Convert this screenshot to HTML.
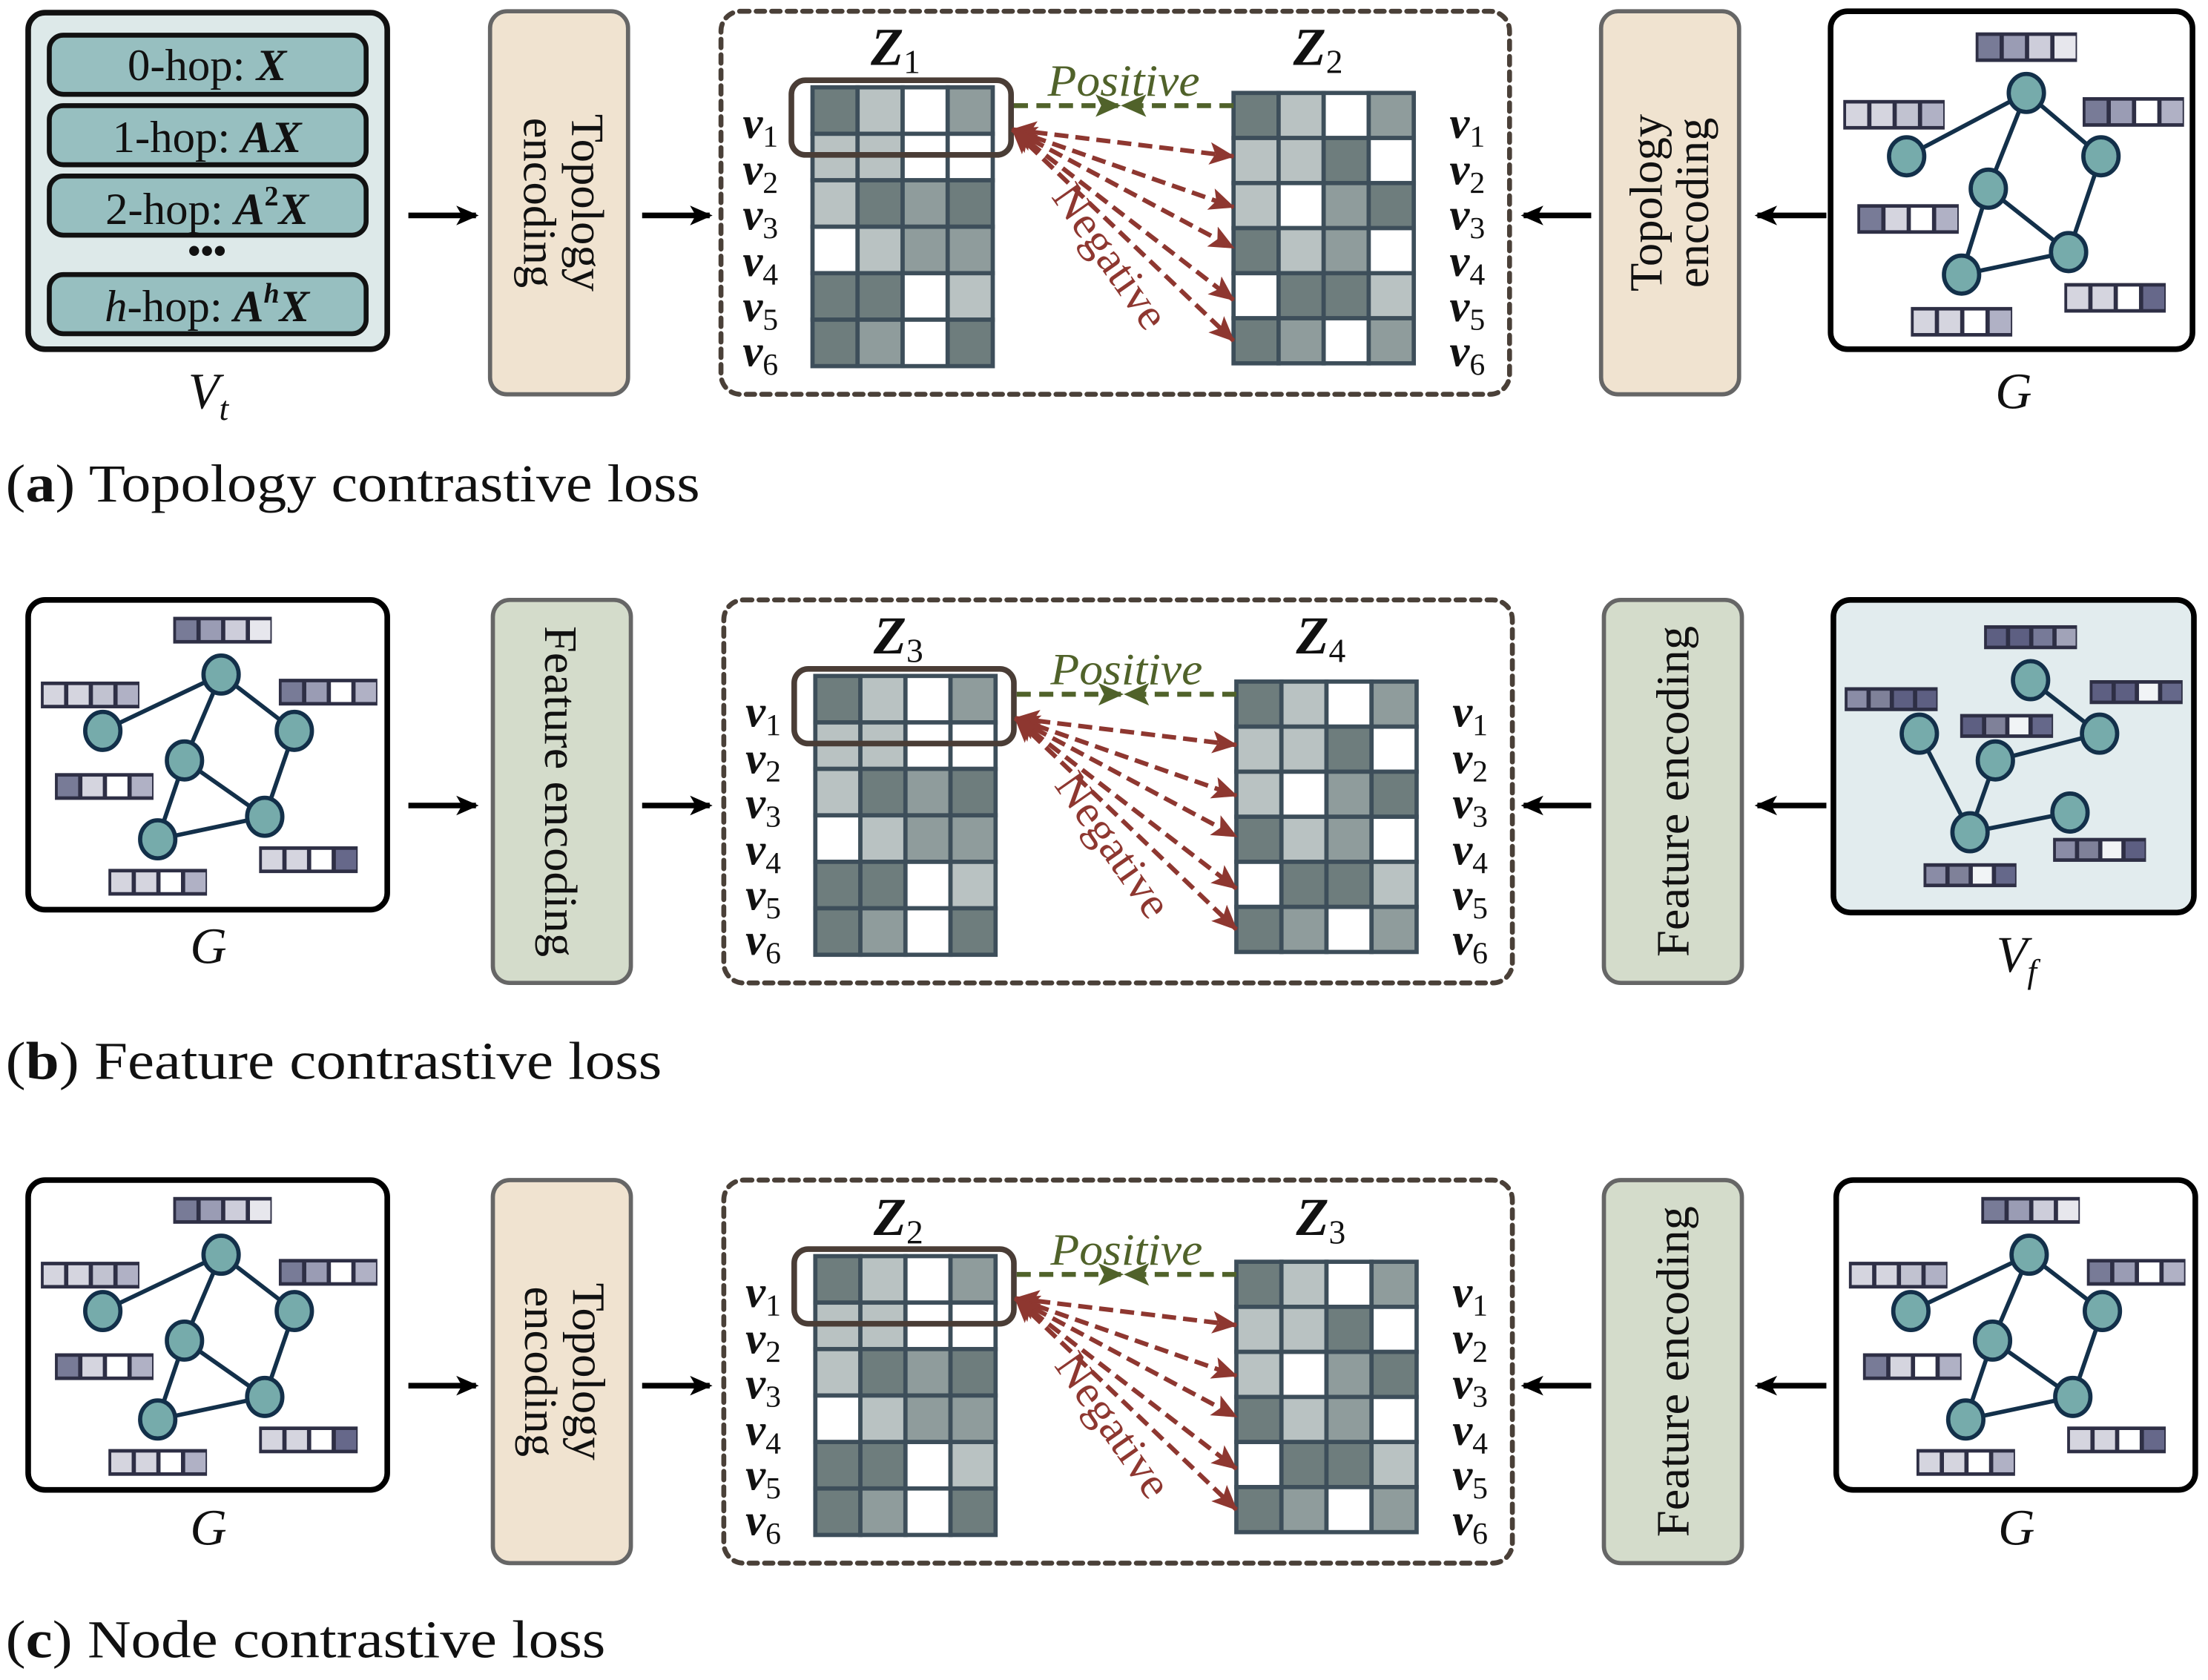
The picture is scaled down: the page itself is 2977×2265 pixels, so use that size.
<!DOCTYPE html>
<html><head><meta charset="utf-8"><style>
html,body{margin:0;padding:0;background:#fff;}
svg{display:block;}
text{font-family:"Liberation Serif",serif;}
</style></head><body>
<svg id="s" width="2977" height="2265" viewBox="0 0 1568 1193" xmlns="http://www.w3.org/2000/svg">
<defs>
<marker id="ak" markerWidth="16" markerHeight="16" refX="14" refY="8" orient="auto" markerUnits="userSpaceOnUse"><path d="M0,1 L16,8 L0,15 L4,8 Z" fill="#000"/></marker>
<marker id="ag" markerWidth="18" markerHeight="16" refX="17" refY="8" orient="auto" markerUnits="userSpaceOnUse"><path d="M0,0 L18,8 L0,16 L4,8 Z" fill="#50622a"/></marker>
<marker id="ar" markerWidth="18" markerHeight="16" refX="17" refY="8" orient="auto-start-reverse" markerUnits="userSpaceOnUse"><path d="M0,0 L18,8 L0,16 L4,8 Z" fill="#8e3730"/></marker>
</defs>
<g id="shapes"></g>
<!-- Row a texts -->
<g font-size="32" text-anchor="middle" fill="#111">
<text x="147" y="57">0-hop: <tspan font-style="italic" font-weight="bold">X</tspan></text>
<text x="147" y="108">1-hop: <tspan font-style="italic" font-weight="bold">AX</tspan></text>
<text x="147" y="159">2-hop: <tspan font-style="italic" font-weight="bold">A</tspan><tspan font-size="20" dy="-13" font-weight="bold">2</tspan><tspan dy="13" font-style="italic" font-weight="bold">X</tspan></text>
<text x="147" y="228"><tspan font-style="italic">h</tspan>-hop: <tspan font-style="italic" font-weight="bold">A</tspan><tspan font-size="20" dy="-13" font-style="italic" font-weight="bold">h</tspan><tspan dy="13" font-style="italic" font-weight="bold">X</tspan></text>
<text x="147" y="187" font-size="26" font-weight="bold">•••</text>
</g>
<g font-size="36" font-style="italic" text-anchor="middle" fill="#111">
<text x="148" y="290">V<tspan font-size="24" dy="8">t</tspan></text>
<text x="1430" y="290">G</text>
<text x="148" y="684">G</text>
<text x="1432" y="690">V<tspan font-size="24" dy="8">f</tspan></text>
<text x="148" y="1097">G</text>
<text x="1432" y="1097">G</text>
</g>
<g font-size="38" fill="#111">
<text x="4" y="356" textLength="493" lengthAdjust="spacingAndGlyphs">(<tspan font-weight="bold">a</tspan>) Topology contrastive loss</text>
<text x="4" y="766" textLength="466" lengthAdjust="spacingAndGlyphs">(<tspan font-weight="bold">b</tspan>) Feature contrastive loss</text>
<text x="4" y="1177" textLength="426" lengthAdjust="spacingAndGlyphs">(<tspan font-weight="bold">c</tspan>) Node contrastive loss</text>
</g>
<!-- encoding box texts -->
<g font-size="33" fill="#111" text-anchor="middle">
<text transform="translate(397,144) rotate(90)"><tspan x="0" y="-9">Topology</tspan><tspan x="0" y="25">encoding</tspan></text>
<text transform="translate(1186,144) rotate(-90)"><tspan x="0" y="-6">Topology</tspan><tspan x="0" y="27">encoding</tspan></text>
<text transform="translate(398,562) rotate(90)" y="11" textLength="235" lengthAdjust="spacingAndGlyphs">Feature encoding</text>
<text transform="translate(1188,562) rotate(-90)" y="11" textLength="235" lengthAdjust="spacingAndGlyphs">Feature encoding</text>
<text transform="translate(398,974) rotate(90)"><tspan x="0" y="-9">Topology</tspan><tspan x="0" y="25">encoding</tspan></text>
<text transform="translate(1188,974) rotate(-90)" y="11" textLength="235" lengthAdjust="spacingAndGlyphs">Feature encoding</text>
</g>
<!-- Z labels -->
<g font-size="38" font-style="italic" font-weight="bold" text-anchor="middle" fill="#111">
<text x="636" y="46">Z<tspan font-size="24" font-weight="normal" font-style="normal" dy="6">1</tspan></text>
<text x="936" y="46">Z<tspan font-size="24" font-weight="normal" font-style="normal" dy="6">2</tspan></text>
<text x="638" y="464">Z<tspan font-size="24" font-weight="normal" font-style="normal" dy="6">3</tspan></text>
<text x="938" y="464">Z<tspan font-size="24" font-weight="normal" font-style="normal" dy="6">4</tspan></text>
<text x="638" y="877">Z<tspan font-size="24" font-weight="normal" font-style="normal" dy="6">2</tspan></text>
<text x="938" y="877">Z<tspan font-size="24" font-weight="normal" font-style="normal" dy="6">3</tspan></text>
</g>
<g font-size="32" font-style="italic" fill="#50622a" text-anchor="middle">
<text x="798" y="68" textLength="108" lengthAdjust="spacingAndGlyphs">Positive</text>
<text x="800" y="486" textLength="108" lengthAdjust="spacingAndGlyphs">Positive</text>
<text x="800" y="898" textLength="108" lengthAdjust="spacingAndGlyphs">Positive</text>
</g>
<g font-size="32" fill="#8e3730" text-anchor="middle">
<text transform="translate(780,188) rotate(55)" textLength="118" lengthAdjust="spacingAndGlyphs">Negative</text>
<text transform="translate(782,606) rotate(55)" textLength="118" lengthAdjust="spacingAndGlyphs">Negative</text>
<text transform="translate(782,1018) rotate(55)" textLength="118" lengthAdjust="spacingAndGlyphs">Negative</text>
</g>
<!-- v labels -->
<g font-size="32" font-style="italic" font-weight="bold" fill="#111" text-anchor="middle">
<text x="540" y="98">v<tspan font-size="22" font-weight="normal" font-style="normal" dy="6">1</tspan></text>
<text x="540" y="131">v<tspan font-size="22" font-weight="normal" font-style="normal" dy="6">2</tspan></text>
<text x="540" y="163">v<tspan font-size="22" font-weight="normal" font-style="normal" dy="6">3</tspan></text>
<text x="540" y="196">v<tspan font-size="22" font-weight="normal" font-style="normal" dy="6">4</tspan></text>
<text x="540" y="228">v<tspan font-size="22" font-weight="normal" font-style="normal" dy="6">5</tspan></text>
<text x="540" y="260">v<tspan font-size="22" font-weight="normal" font-style="normal" dy="6">6</tspan></text>
<text x="1042" y="98">v<tspan font-size="22" font-weight="normal" font-style="normal" dy="6">1</tspan></text>
<text x="1042" y="131">v<tspan font-size="22" font-weight="normal" font-style="normal" dy="6">2</tspan></text>
<text x="1042" y="163">v<tspan font-size="22" font-weight="normal" font-style="normal" dy="6">3</tspan></text>
<text x="1042" y="196">v<tspan font-size="22" font-weight="normal" font-style="normal" dy="6">4</tspan></text>
<text x="1042" y="228">v<tspan font-size="22" font-weight="normal" font-style="normal" dy="6">5</tspan></text>
<text x="1042" y="260">v<tspan font-size="22" font-weight="normal" font-style="normal" dy="6">6</tspan></text>
<text x="542" y="516">v<tspan font-size="22" font-weight="normal" font-style="normal" dy="6">1</tspan></text>
<text x="542" y="549">v<tspan font-size="22" font-weight="normal" font-style="normal" dy="6">2</tspan></text>
<text x="542" y="581">v<tspan font-size="22" font-weight="normal" font-style="normal" dy="6">3</tspan></text>
<text x="542" y="614">v<tspan font-size="22" font-weight="normal" font-style="normal" dy="6">4</tspan></text>
<text x="542" y="646">v<tspan font-size="22" font-weight="normal" font-style="normal" dy="6">5</tspan></text>
<text x="542" y="678">v<tspan font-size="22" font-weight="normal" font-style="normal" dy="6">6</tspan></text>
<text x="1044" y="516">v<tspan font-size="22" font-weight="normal" font-style="normal" dy="6">1</tspan></text>
<text x="1044" y="549">v<tspan font-size="22" font-weight="normal" font-style="normal" dy="6">2</tspan></text>
<text x="1044" y="581">v<tspan font-size="22" font-weight="normal" font-style="normal" dy="6">3</tspan></text>
<text x="1044" y="614">v<tspan font-size="22" font-weight="normal" font-style="normal" dy="6">4</tspan></text>
<text x="1044" y="646">v<tspan font-size="22" font-weight="normal" font-style="normal" dy="6">5</tspan></text>
<text x="1044" y="678">v<tspan font-size="22" font-weight="normal" font-style="normal" dy="6">6</tspan></text>
<text x="542" y="928">v<tspan font-size="22" font-weight="normal" font-style="normal" dy="6">1</tspan></text>
<text x="542" y="961">v<tspan font-size="22" font-weight="normal" font-style="normal" dy="6">2</tspan></text>
<text x="542" y="993">v<tspan font-size="22" font-weight="normal" font-style="normal" dy="6">3</tspan></text>
<text x="542" y="1026">v<tspan font-size="22" font-weight="normal" font-style="normal" dy="6">4</tspan></text>
<text x="542" y="1058">v<tspan font-size="22" font-weight="normal" font-style="normal" dy="6">5</tspan></text>
<text x="542" y="1090">v<tspan font-size="22" font-weight="normal" font-style="normal" dy="6">6</tspan></text>
<text x="1044" y="928">v<tspan font-size="22" font-weight="normal" font-style="normal" dy="6">1</tspan></text>
<text x="1044" y="961">v<tspan font-size="22" font-weight="normal" font-style="normal" dy="6">2</tspan></text>
<text x="1044" y="993">v<tspan font-size="22" font-weight="normal" font-style="normal" dy="6">3</tspan></text>
<text x="1044" y="1026">v<tspan font-size="22" font-weight="normal" font-style="normal" dy="6">4</tspan></text>
<text x="1044" y="1058">v<tspan font-size="22" font-weight="normal" font-style="normal" dy="6">5</tspan></text>
<text x="1044" y="1090">v<tspan font-size="22" font-weight="normal" font-style="normal" dy="6">6</tspan></text>
</g>
</svg>
<script>
(function(){
var NS="http://www.w3.org/2000/svg",g=document.getElementById("shapes");
function el(t,a){var e=document.createElementNS(NS,t);for(var k in a)e.setAttribute(k,a[k]);g.appendChild(e);return e;}
el("rect",{x:20,y:9,width:255,height:239,rx:12,fill:"#dde9e9",stroke:"#111","stroke-width":4});
[[25,42],[75,42],[125,42],[195,42]].forEach(function(p){el("rect",{x:35,y:p[0],width:225,height:p[1],rx:10,fill:"#97bfc0",stroke:"#111","stroke-width":3.5});});
var D="#6e7d7d",M="#8f9c9c",L="#b9c2c2",W="#ffffff";
var Z1=[[D,L,W,M],[L,L,W,W],[L,D,M,D],[W,L,M,M],[D,D,W,L],[D,M,W,D]];
var Z2=[[D,L,W,M],[L,L,D,W],[L,W,M,D],[D,L,M,W],[W,D,D,L],[D,M,W,M]];
function mat(x,y,cw,ch,m){for(var r=0;r<6;r++)for(var c=0;c<4;c++)el("rect",{x:x+c*cw,y:y+r*ch,width:cw,height:ch,fill:m[r][c],stroke:"#3d4e5a","stroke-width":3});}
function arrow(x1,x2,y){el("line",{x1:x1,y1:y,x2:x2,y2:y,stroke:"#000","stroke-width":4,"marker-end":"url(#ak)"});}
function encbox(x,y,fill){el("rect",{x:x,y:y,width:98,height:272,rx:12,fill:fill,stroke:"#666","stroke-width":3});}
var BEIGE="#f0e3d0",GREEN="#d4dccb";
var rows=[{dy:0,l:BEIGE,r:BEIGE},{dy:418,l:GREEN,r:GREEN},{dy:830,l:BEIGE,r:GREEN}];
rows.forEach(function(R,i){
 var dy=R.dy, ox=(i==0?0:2);
 encbox(348+ox,8+dy,R.l); encbox(1137+ox,8+dy,R.r);
 var ay=153+dy+(i==0?0:1);
 arrow(290,338,ay); arrow(456,504,ay); arrow(1130,1082,ay); arrow(1297,1248,ay);
 el("rect",{x:512+ox,y:8+dy,width:560,height:272,rx:14,fill:"none",stroke:"#4a4038","stroke-width":3.5,"stroke-dasharray":"6 5","stroke-linecap":"round"});
 mat(577+ox,62+dy,32,33,Z1); mat(876+ox,66+dy,32,32,Z2);
 el("rect",{x:562+ox,y:57+dy,width:156,height:53,rx:10,fill:"none",stroke:"#4a3d36","stroke-width":4});
 el("line",{x1:720+ox,y1:75+dy,x2:795+ox,y2:75+dy,stroke:"#50622a","stroke-width":3.5,"stroke-dasharray":"10 6","marker-end":"url(#ag)"});
 el("line",{x1:876+ox,y1:75+dy,x2:797+ox,y2:75+dy,stroke:"#50622a","stroke-width":3.5,"stroke-dasharray":"10 6","marker-end":"url(#ag)"});
 [111,147,176,213,242].forEach(function(ty){
  el("line",{x1:719+ox,y1:92+dy,x2:876+ox,y2:ty+dy,stroke:"#8e3730","stroke-width":3.2,"stroke-dasharray":"10 5","marker-end":"url(#ar)","marker-start":"url(#ar)"});
 });
});
var BD="#2e2f45";
function graph(bx,by,bw,bh,fill,nodes,edges,bars,bwid,bh2){
 el("rect",{x:bx,y:by,width:bw,height:bh,rx:12,fill:fill,stroke:"#000","stroke-width":4});
 edges.forEach(function(e){var a=nodes[e[0]],b=nodes[e[1]];el("line",{x1:bx+a[0],y1:by+a[1],x2:bx+b[0],y2:by+b[1],stroke:"#13304a","stroke-width":3});});
 nodes.forEach(function(n){el("ellipse",{cx:bx+n[0],cy:by+n[1],rx:12.5,ry:13.5,fill:"#76abab",stroke:"#13304a","stroke-width":3});});
 bars.forEach(function(b){var cw=bwid/4;el("rect",{x:bx+b[0],y:by+b[1],width:bwid,height:bh2,fill:BD});
  for(var c=0;c<4;c++)el("rect",{x:bx+b[0]+c*cw+2,y:by+b[1]+2.5,width:cw-3,height:bh2-5,fill:b[2][c]});});
}
var c1="#787b97",c2="#9a9cb4",c3="#cdcdda",c4="#e7e7ed",c5="#d5d5df",c6="#c1c2d0",c7="#b0b1c5",c8="#66688a";
var GN=[[139,58],[54,103],[192,103],[112,126],[169,171],[93,187]];
var GE=[[0,1],[0,3],[0,2],[2,4],[3,4],[3,5],[5,4]];
var GB=[[103,15,[c1,c2,c3,c4]],[9,63,[c5,c5,c6,c7]],[179,61,[c1,c2,W,c7]],[19,137,[c1,c5,W,c7]],[166,193,[c5,c5,W,c8]],[57,210,[c5,c5,W,c7]]];
graph(1300,8,257,240,"#fff",GN,GE,GB,72,21);
var GN2=[[137,53],[53,93],[189,93],[111,114],[168,154],[92,170]];
var GB2=[[103,12,[c1,c2,c3,c4]],[9,58,[c5,c5,c6,c7]],[178,56,[c1,c2,W,c7]],[19,123,[c1,c5,W,c7]],[164,175,[c5,c5,W,c8]],[57,191,[c5,c5,W,c7]]];
graph(20,426,255,220,"#fff",GN2,GE,GB2,70,19);
graph(20,838,255,220,"#fff",GN2,GE,GB2,70,19);
graph(1304,838,255,220,"#fff",GN2,GE,GB2,70,19);
var d1="#5d5f82",d2="#7f8199",d3="#8a8ca6",d4="#a1a3b8",d5="#65688a",w2="#f1f4f6";
var VN=[[140,57],[61,95],[189,95],[115,114],[168,151],[97,165]];
var VE=[[0,2],[2,3],[3,5],[1,5],[5,4]];
var VB=[[107,18,[d1,d1,"#777a98",d4]],[8,62,[d3,d2,d1,d1]],[182,57,[d1,d1,w2,d5]],[90,81,[d1,d2,w2,d5]],[156,169,[d3,d2,w2,d1]],[64,187,[d3,d2,w2,d5]]];
graph(1302,426,256,222,"#e2ecee",VN,VE,VB,66,17);
})();
</script>
</body></html>
